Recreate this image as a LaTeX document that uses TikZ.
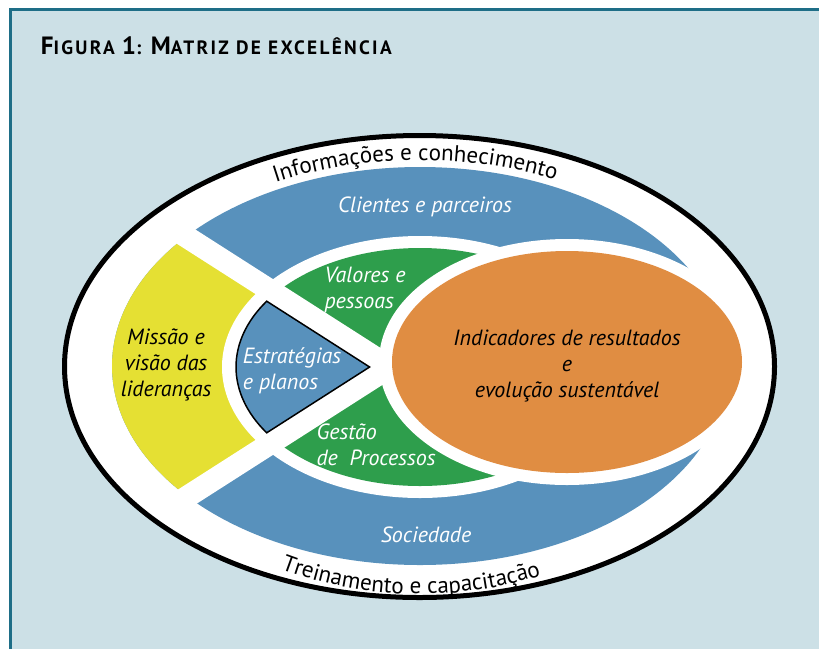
\documentclass[tikz,border=0pt]{standalone}
\usepackage{fontspec}
\setmainfont{PT Sans}
\usetikzlibrary{decorations.text}

\definecolor{panel}{RGB}{204,224,230}
\definecolor{frameline}{RGB}{30,110,135}
\definecolor{ringblue}{RGB}{88,145,188}
\definecolor{leadyellow}{RGB}{229,224,51}
\definecolor{valgreen}{RGB}{46,158,76}
\definecolor{resorange}{RGB}{224,141,66}

% big first letter, small caps rest
\newcommand{\figsc}[2]{{\fontsize{25}{25}\selectfont #1}{\fontsize{19.3}{19.3}\selectfont #2}}

\begin{document}
\begin{tikzpicture}[x=1pt,y=-1pt,
  lbl/.style={font=\fontsize{22}{26}\selectfont\itshape, inner sep=0pt},
  gap/.style={white, line width=22pt},
  ringtext/.style={decorate, decoration={text along path, text align=center, text={|\fontsize{23}{23}\selectfont|#1}}}]
\useasboundingbox (0,0) rectangle (819,649);

% panel
\fill[white] (0,0) rectangle (819,649);
\fill[panel] (10.5,9) rectangle (819,649);
\draw[frameline, line width=3pt] (10.5,649) -- (10.5,9) -- (819,9);
\node[anchor=base west, inner sep=0pt, font=\fontsize{19.3}{19.3}\selectfont\bfseries\addfontfeature{LetterSpace=12}] (titel) at (40.7,54.3)
  {\figsc{F}{IGURA} \figsc{1}{:} \figsc{M}{ATRIZ DE EXCELÊNCIA}};

% outer ring
\draw[line width=5pt, fill=white] (419.5,366.5) ellipse [x radius=355, y radius=231];
% outer band and leadership
\fill[ringblue] (420,366) ellipse [x radius=308, y radius=199];
\begin{scope}
  \clip (390,367) -- (53,151.5) -- (53,582.5) -- cycle;
  \fill[leadyellow] (420,366) ellipse [x radius=308, y radius=199];
\end{scope}
\fill[white] (420,367) ellipse [x radius=198, y radius=131];
% middle pie
\fill[valgreen] (420,367) ellipse [x radius=184, y radius=119];
\draw[gap] (390,367) -- ++(212.6:260);
\draw[gap] (390,367) -- ++(147.4:260);
% results
\fill[white] (567,362) ellipse [x radius=188, y radius=123];
\fill[resorange] (567,362) ellipse [x radius=175, y radius=111];
% strategy wedge
\filldraw[fill=ringblue, line width=1.5pt] (369.6,367) -- (266.7,301.2)
  arc[start angle=213.57, end angle=146.43, x radius=184, y radius=119] -- cycle;

% labels
\node[lbl, white, anchor=base] (clientes) at (425,212) {Clientes e parceiros};
\node[lbl, white, align=left] (valores) at (365,290) {Valores e\\pessoas};
\node[lbl, white, align=left] (estrategias) at (292,371) {Estratégias\\e planos};
\node[lbl, align=center] (missao) at (166,365) {Missão e\\visão das\\lideranças};
\node[lbl, align=center] (indicadores) at (567,366) {Indicadores de resultados\\e\\evolução sustentável};
\node[lbl, white, align=left] (gestao) at (376,445) {Gestão\\de\ \ Processos};
\node[lbl, white, anchor=base] (sociedade) at (426,542) {Sociedade};

% ring texts
\path[ringtext={Informações e conhecimento}] (211.4,210.8)
  arc[start angle=229, end angle=309, x radius=318, y radius=207];
\path[ringtext={Treinamento e capacitação}] (215.9,535.7)
  arc[start angle=132, end angle=52, x radius=305, y radius=227];
\end{tikzpicture}
\end{document}
